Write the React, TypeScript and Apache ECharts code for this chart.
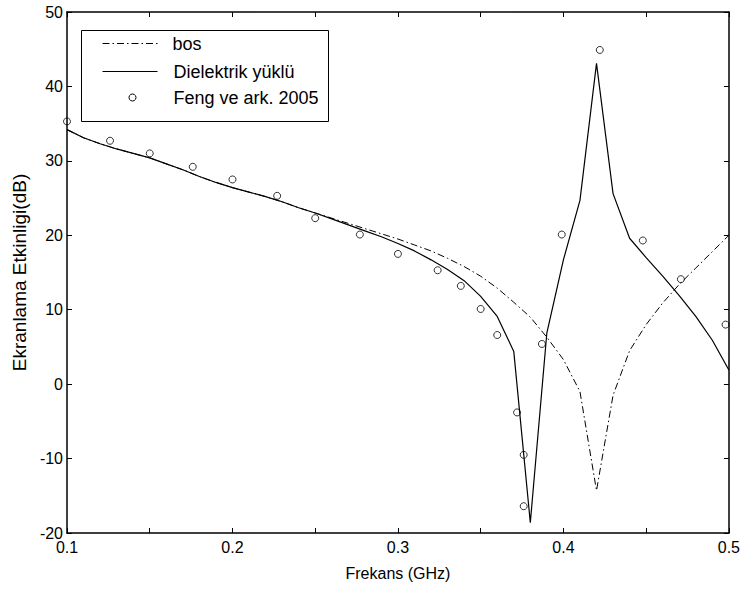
import React, { useEffect, useRef } from "react";
import * as echarts from "echarts";

const freq = [
  0.1, 0.11, 0.12, 0.13, 0.14, 0.15, 0.16, 0.17, 0.18, 0.19,
  0.2, 0.21, 0.22, 0.23, 0.24, 0.25, 0.26, 0.27, 0.28, 0.29,
  0.3, 0.31, 0.32, 0.33, 0.34, 0.35, 0.36, 0.37, 0.38, 0.39,
  0.4, 0.41, 0.42, 0.43, 0.44, 0.45, 0.46, 0.47, 0.48, 0.49, 0.5,
];

const bos = [
  34.2, 33.1, 32.3, 31.6, 31.0, 30.4, 29.6, 28.8, 27.9, 27.1,
  26.4, 25.8, 25.2, 24.5, 23.7, 23.0, 22.3, 21.6, 20.9, 20.2,
  19.5, 18.7, 17.9, 16.9, 15.8, 14.5, 12.9, 11.0, 9.0, 6.3,
  3.3, -1.0, -14.3, -1.5, 4.5, 8.0, 10.9, 13.4, 15.6, 17.8, 20.0,
];

const dielektrik = [
  34.2, 33.1, 32.3, 31.6, 31.0, 30.4, 29.6, 28.8, 27.9, 27.1,
  26.4, 25.8, 25.2, 24.5, 23.7, 23.0, 22.2, 21.4, 20.6, 19.8,
  18.9, 17.9, 16.7, 15.4, 13.9, 11.8, 9.1, 4.4, -18.6, 6.9,
  16.7, 24.7, 43.1, 25.6, 19.6, 17.0, 14.5, 11.9, 9.1, 5.9, 1.9,
];

const fengX = [
  0.1, 0.126, 0.15, 0.176, 0.2, 0.227, 0.25, 0.277, 0.3, 0.324, 0.338,
  0.35, 0.36, 0.372, 0.376, 0.376, 0.387, 0.399, 0.422, 0.448, 0.471, 0.498,
];
const fengY = [
  35.3, 32.7, 31.0, 29.2, 27.5, 25.3, 22.3, 20.1, 17.5, 15.3, 13.2,
  10.1, 6.6, -3.8, -9.5, -16.4, 5.4, 20.1, 44.9, 19.3, 14.1, 8.0,
];

const seriesNames = ["bos", "Dielektrik yüklü", "Feng ve ark. 2005"];
const xTitle = "Frekans (GHz)";
const yTitle = "Ekranlama Etkinligi(dB)";

const FONT = "'Liberation Sans', Arial, Helvetica, sans-serif";
const DASHDOT = [7, 3, 1.5, 3];

export default function App() {
  const ref = useRef<HTMLDivElement>(null);

  useEffect(() => {
    document.body.style.margin = "0";
    if (!ref.current) return;
    const chart = echarts.init(ref.current, undefined, { renderer: "svg" });

    const axisLine = { show: true, onZero: false, lineStyle: { color: "#000", width: 1.5 } };
    const axisTick = { show: true, inside: true, length: 5, lineStyle: { color: "#000", width: 1 } };

    const option: any = {
      animation: false,
      backgroundColor: "#fff",
      grid: { left: 67, top: 12, right: 11, bottom: 59, containLabel: false },
      xAxis: [
        {
          type: "value",
          min: 0.1,
          max: 0.5,
          interval: 0.05,
          position: "bottom",
          axisLine,
          axisTick,
          splitLine: { show: false },
          axisLabel: {
            color: "#000",
            fontSize: 16,
            fontFamily: FONT,
            margin: 6,
            formatter: (v: number) =>
              Math.round(v * 100) % 10 === 0 ? v.toFixed(1) : "",
          },
          name: xTitle,
          nameLocation: "middle",
          nameGap: 32,
          nameTextStyle: { color: "#000", fontSize: 16, fontFamily: FONT },
        },
        {
          type: "value",
          min: 0.1,
          max: 0.5,
          interval: 0.05,
          position: "top",
          axisLine,
          axisTick,
          splitLine: { show: false },
          axisLabel: { show: false },
        },
      ],
      yAxis: [
        {
          type: "value",
          min: -20,
          max: 50,
          interval: 10,
          position: "left",
          axisLine,
          axisTick,
          splitLine: { show: false },
          axisLabel: { color: "#000", fontSize: 16, fontFamily: FONT, margin: 4 },
          name: yTitle,
          nameLocation: "middle",
          nameGap: 35,
          nameTextStyle: { color: "#000", fontSize: 19, fontFamily: FONT },
        },
        {
          type: "value",
          min: -20,
          max: 50,
          interval: 10,
          position: "right",
          axisLine,
          axisTick,
          splitLine: { show: false },
          axisLabel: { show: false },
        },
      ],
      series: [
        {
          name: seriesNames[0],
          type: "line",
          data: freq.map((f, i) => [f, bos[i]]),
          symbol: "none",
          lineStyle: { color: "#000", width: 1, type: DASHDOT },
          z: 2,
        },
        {
          name: seriesNames[1],
          type: "line",
          data: freq.map((f, i) => [f, dielektrik[i]]),
          symbol: "none",
          lineStyle: { color: "#000", width: 1.2 },
          z: 3,
        },
        {
          name: seriesNames[2],
          type: "scatter",
          data: fengX.map((f, i) => [f, fengY[i]]),
          symbol: "circle",
          symbolSize: 7,
          clip: false,
          itemStyle: { color: "rgba(255,255,255,0)", borderColor: "#000", borderWidth: 1 },
          z: 4,
        },
      ],
      graphic: [
        {
          type: "group",
          left: 81,
          top: 30,
          children: [
            {
              type: "rect",
              shape: { x: 0, y: 0, width: 247, height: 91 },
              style: { fill: "#fff", stroke: "#000", lineWidth: 1 },
            },
            {
              type: "line",
              shape: { x1: 21, y1: 13, x2: 76, y2: 13 },
              style: { stroke: "#000", lineWidth: 1, lineDash: DASHDOT },
            },
            {
              type: "line",
              shape: { x1: 21, y1: 41, x2: 76, y2: 41 },
              style: { stroke: "#000", lineWidth: 1.2 },
            },
            {
              type: "circle",
              shape: { cx: 51, cy: 67, r: 3.5 },
              style: { fill: "none", stroke: "#000", lineWidth: 1 },
            },
            {
              type: "text",
              x: 91,
              y: 13,
              style: { text: seriesNames[0], fontSize: 18, fontFamily: FONT, fill: "#000", verticalAlign: "middle" },
            },
            {
              type: "text",
              x: 92,
              y: 41,
              style: { text: seriesNames[1], fontSize: 18, fontFamily: FONT, fill: "#000", verticalAlign: "middle" },
            },
            {
              type: "text",
              x: 92,
              y: 67,
              style: { text: seriesNames[2], fontSize: 18, fontFamily: FONT, fill: "#000", verticalAlign: "middle" },
            },
          ],
        },
      ],
    };

    chart.setOption(option);
    return () => chart.dispose();
  }, []);

  return <div ref={ref} style={{ width: 743, height: 592 }} />;
}
